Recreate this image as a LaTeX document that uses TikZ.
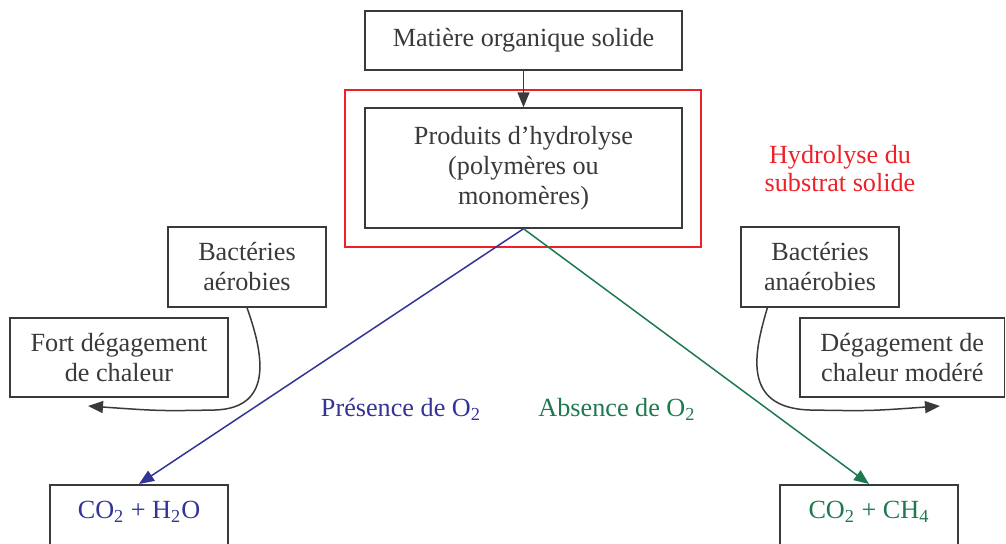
\documentclass[tikz,border=0pt]{standalone}
\usepackage{fontspec}
\setmainfont{Liberation Serif}
\usetikzlibrary{arrows.meta,calc}
\definecolor{txtgray}{HTML}{3A3A3A}
\definecolor{myblue}{HTML}{333399}
\definecolor{mygreen}{HTML}{1E7A4E}
\definecolor{myred}{HTML}{EE2028}
\begin{document}
\begin{tikzpicture}[x=0.5pt,y=-0.5pt,
  box/.style={draw=txtgray, line width=0.75pt, text=txtgray, align=center, inner sep=0pt, font=\fontsize{13.1}{15}\selectfont},
  lbl/.style={align=center, inner sep=0pt, font=\fontsize{13.1}{14}\selectfont},
  bottombox/.style={box, anchor=north, text height=9pt, text depth=10pt, inner ysep=8pt, minimum width=89pt},
  tip/.style={-{Triangle[length=7.5pt,width=6pt]}},
  conn/.style={tip, line width=0.75pt, draw=txtgray, fill=txtgray},
]
\useasboundingbox (0,0) rectangle (1006,543);
\clip (0,0) rectangle (1006,543);

\node[box, minimum width=158.5pt, minimum height=29.5pt] (mat) at (523.5,40.5) {Matière organique solide};
\node[draw=myred, line width=0.7pt, inner sep=0pt, minimum width=178pt, minimum height=78.5pt] (frame) at (523,168.5) {};
\node[box, minimum width=158.5pt, minimum height=60pt] (prod) at (523.5,168) {Produits d’hydrolyse\\(polymères ou\\monomères)};
\node[lbl, text=myred] (hyd) at (840,169) {Hydrolyse du\\substrat solide};

\node[box, minimum width=79pt, minimum height=40pt] (bacA) at (247,267) {Bactéries\\aérobies};
\node[box, minimum width=109pt, minimum height=39.5pt] (fort) at (119,357.5) {Fort dégagement\\de chaleur};
\node[box, minimum width=79pt, minimum height=40pt] (bacN) at (820,267) {Bactéries\\anaérobies};
\node[box, minimum width=102.25pt, minimum height=39.5pt] (deg) at (902.25,357.5) {Dégagement de\\chaleur modéré};

\node[bottombox, text=myblue] (co2a) at (139,484) {CO\textsubscript{2} + H\textsubscript{2}O};
\node[bottombox, text=mygreen] (co2b) at (869,484) {CO\textsubscript{2} + CH\textsubscript{4}};

\node[lbl, text=myblue] (pres) at (401,409) {Présence de O\textsubscript{2}};
\node[lbl, text=mygreen] (abs) at (617,409) {Absence de O\textsubscript{2}};

\draw[conn] (mat.south) -- (prod.north);
\draw[tip, line width=0.75pt, draw=myblue, fill=myblue] (prod.south) -- (co2a.north);
\draw[tip, line width=0.75pt, draw=mygreen, fill=mygreen] (prod.south) -- (co2b.north);

\coordinate (fa) at (88,406);
\coordinate (fb) at (940,406);
\draw[conn, fill=none] (bacA.south) .. controls (262,350) and (276,408) .. (215,410) .. controls (160,411) .. (fa);
\draw[conn, fill=none] ($(bacN.south west)!0.17!(bacN.south east)$) .. controls (755,350) and (740,408) .. (810,410) .. controls (870,411) .. (fb);
\end{tikzpicture}
\end{document}
